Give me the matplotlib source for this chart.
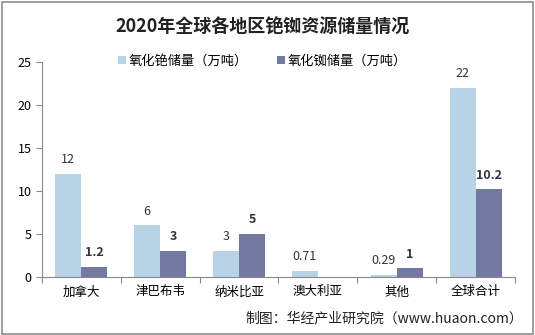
import matplotlib
matplotlib.use("Agg")
import matplotlib.pyplot as plt
import numpy as np
from matplotlib.patches import Rectangle

plt.rcParams['font.family'] = ['Noto Sans CJK SC', 'DejaVu Sans']

categories = ['加拿大', '津巴布韦', '纳米比亚', '澳大利亚', '其他', '全球合计']
cesium = [12, 6, 3, 0.71, 0.29, 22]
rubidium = [1.2, 3, 5, None, 1, 10.2]
cesium_labels = ['12', '6', '3', '0.71', '0.29', '22']
rubidium_labels = ['1.2', '3', '5', '', '1', '10.2']
series_names = ['氧化铯储量（万吨）', '氧化铷储量（万吨）']
yticks = [0, 5, 10, 15, 20, 25]

c1 = '#B8D3E6'
c2 = '#7479A1'

fig = plt.figure(figsize=(5.35, 3.35), dpi=100)
fig.patches.append(Rectangle((0.004, 0.004), 0.992, 0.99, transform=fig.transFigure,
                             fill=False, edgecolor='#8C8C8C', linewidth=1.2))
ax = fig.add_axes([0.0785, 0.173, 0.884, 0.642])

x = np.arange(len(categories))
w = 0.33
rb = [v if v is not None else 0 for v in rubidium]
b1 = ax.bar(x - w/2, cesium, w, color=c1, label=series_names[0])
b2 = ax.bar(x + w/2, rb, w, color=c2, label=series_names[1])

for xi, v, t in zip(x, cesium, cesium_labels):
    if t:
        ax.text(xi - w/2, v + 0.9, t, ha='center', va='bottom', fontsize=9, color='#333333')
for xi, v, t in zip(x, rb, rubidium_labels):
    if t:
        ax.text(xi + w/2, v + 0.9, t, ha='center', va='bottom', fontsize=9,
                color='#333344', fontweight='bold')

ax.set_xlim(-0.5, len(categories) - 0.5)
ax.set_ylim(0, 25)
ax.set_yticks(yticks)
ax.set_yticklabels([str(t) for t in yticks], fontsize=9)
ax.set_xticks(np.arange(-0.5, len(categories), 1.0), minor=False)
ax.set_xticklabels([])
ax.set_xticks(x, minor=True)
ax.set_xticklabels(categories, minor=True, fontsize=9)
ax.tick_params(axis='x', which='minor', length=0, pad=6)
ax.tick_params(axis='x', which='major', length=4, color='#888888', direction='out')
ax.tick_params(axis='y', length=4, color='#888888', direction='out')
for s in ['top', 'right']:
    ax.spines[s].set_visible(False)
ax.spines['left'].set_color('#888888')
ax.spines['bottom'].set_color('#888888')

fig.text(0.49, 0.92, '2020年全球各地区铯铷资源储量情况', ha='center', va='center',
         fontsize=13, fontweight='bold', color='#222222')
fig.legend(handles=[b1, b2], loc='center', bbox_to_anchor=(0.49, 0.818), ncol=2,
           frameon=False, fontsize=9.5, handlelength=0.6, handleheight=0.6,
           columnspacing=2.2, handletextpad=0.2)
fig.text(0.977, 0.05, '制图：华经产业研究院（www.huaon.com）', ha='right', va='center',
         fontsize=10, color='#222222')

fig.savefig('out.png', dpi=100)
